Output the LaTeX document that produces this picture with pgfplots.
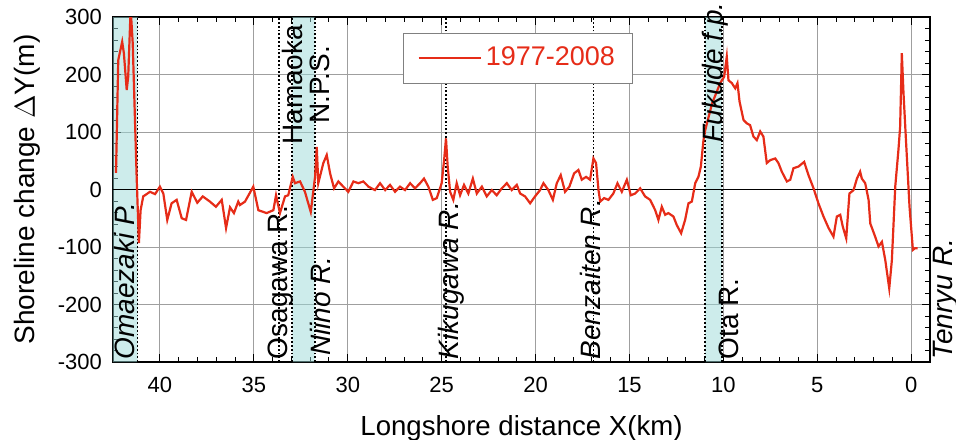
\documentclass[border=0pt]{standalone}
\usepackage{pgfplots}
\pgfplotsset{compat=1.18}
\usepackage{fontspec}
\setmainfont{Liberation Sans}
\definecolor{curve}{RGB}{230,44,24}
\definecolor{shade}{RGB}{155,217,215}
\begin{document}
\begin{tikzpicture}
\path[use as bounding box] (-56.5pt,-38.5pt) rectangle (421.5pt,181pt);
\begin{axis}[
    at={(0,0)}, anchor=south west,
    scale only axis, width=408.5pt, height=172.5pt,
    x dir=reverse,
    xmin=-1, xmax=42.5, ymin=-300, ymax=300,
    xtick={0,5,...,40},
    ytick={-300,-200,...,300},
    yticklabels={-300,-200,-100,0,100,200,300},
    minor x tick num=4, minor y tick num=4,
    tick align=inside,
    major tick length=4pt, minor tick length=2.5pt,
    tick style={black, line width=0.5pt},
    grid=major,
    major grid style={gray!75, line width=0.45pt},
    axis line style={black, line width=0.6pt},
    clip mode=individual,
    /pgf/number format/assume math mode=true,
    tick label style={font=\fontsize{11}{13}\selectfont},
    yticklabel style={xshift=-2pt},
    xticklabel style={yshift=-4pt},
    xlabel={Longshore distance X(km)},
    ylabel={Shoreline change $\Delta$Y(m)},
    xlabel style={font=\fontsize{13.8}{16}\selectfont, at={(axis description cs:0.5,-0.2116)}, anchor=base},
    ylabel style={font=\fontsize{14}{16}\selectfont, at={(axis description cs:-0.0955,0.5)}, anchor=base},
    legend style={at={(0.496,0.881)}, anchor=center, draw=gray, fill=white,
        font=\fontsize{13.5}{15}\selectfont, text=curve, inner xsep=7pt, inner ysep=5pt},
    legend image code/.code={\draw[#1] (0pt,0pt) -- (31pt,0pt);},
]
% shaded zones (half transparent so the grid shows through)
\addplot[forget plot, draw=none, fill=shade, fill opacity=0.5]
    coordinates {(42.5,-300) (41.19,-300) (41.19,300) (42.5,300) (42.5,-300)};
\addplot[forget plot, draw=none, fill=shade, fill opacity=0.5]
    coordinates {(32.95,-300) (31.76,-300) (31.76,300) (32.95,300) (32.95,-300)};
\addplot[forget plot, draw=none, fill=shade, fill opacity=0.5]
    coordinates {(10.97,-300) (10.08,-300) (10.08,300) (10.97,300) (10.97,-300)};
% zero line
\addplot[forget plot, black, line width=0.8pt] coordinates {(42.5,0) (-1,0)};
% dotted markers
\addplot[forget plot, black, densely dotted, line width=0.9pt] coordinates {(41.19,-300) (41.19,300)};
\addplot[forget plot, black, densely dotted, line width=0.9pt] coordinates {(33.64,-300) (33.64,300)};
\addplot[forget plot, black, densely dotted, line width=0.9pt] coordinates {(32.95,-300) (32.95,300)};
\addplot[forget plot, black, densely dotted, line width=0.9pt] coordinates {(31.76,-300) (31.76,300)};
\addplot[forget plot, black, densely dotted, line width=0.9pt] coordinates {(24.77,-300) (24.77,300)};
\addplot[forget plot, black, densely dotted, line width=0.9pt] coordinates {(16.92,-300) (16.92,300)};
\addplot[forget plot, black, densely dotted, line width=0.9pt] coordinates {(10.97,-300) (10.97,300)};
\addplot[forget plot, black, densely dotted, line width=0.9pt] coordinates {(10.08,-300) (10.08,300)};
% shoreline change 1977-2008
\addplot[curve, line width=1.1pt] coordinates {
(42.34,29) (42.22,225) (42.01,257) (41.92,237) (41.77,173) (41.69,196) (41.56,315) (41.45,255)
(41.24,22) (41.12,-93) (41.03,-36) (40.89,-12) (40.53,-4) (40.26,-8) (40.00,5) (39.82,-7)
(39.61,-53) (39.38,-24) (39.11,-18) (38.84,-50) (38.61,-53) (38.31,-4) (38.01,-23) (37.72,-12)
(37.34,-21) (37.02,-30) (36.71,-18) (36.48,-67) (36.27,-31) (36.06,-41) (35.83,-21) (35.74,-27)
(35.47,-21) (35.03,5) (34.76,-36) (34.32,-41) (33.96,-36) (33.82,-10) (33.61,-41) (33.34,-12)
(33.17,-10) (32.93,22) (32.81,11) (32.54,14) (32.28,-4) (31.97,-39) (31.74,22) (31.65,74)
(31.57,11) (31.30,46) (31.12,60) (30.94,28) (30.73,2) (30.50,14) (30.24,5) (29.97,-4)
(29.70,14) (29.44,11) (29.17,14) (28.90,5) (28.55,-1) (28.28,11) (28.01,-1) (27.75,8)
(27.48,-4) (27.22,5) (26.95,-1) (26.68,11) (26.42,2) (26.15,11) (25.94,19) (25.71,5)
(25.47,-18) (25.26,-15) (25.00,11) (24.87,51) (24.77,89) (24.68,40) (24.55,-4) (24.38,-18)
(24.20,11) (24.02,-10) (23.81,8) (23.58,-7) (23.34,19) (23.13,-7) (22.86,5) (22.60,-12)
(22.33,-1) (22.07,-10) (21.80,2) (21.53,11) (21.27,-1) (21.00,8) (20.82,-7) (20.56,-12)
(20.29,-24) (20.03,-12) (19.76,-1) (19.58,11) (19.32,-1) (19.08,-18) (18.87,11) (18.66,25)
(18.43,-4) (18.20,5) (17.95,28) (17.72,34) (17.54,17) (17.31,22) (17.10,17) (16.92,54)
(16.78,46) (16.65,-1) (16.56,-21) (16.35,-15) (16.12,-18) (15.86,-7) (15.64,11) (15.41,-4)
(15.14,17) (14.93,-10) (14.70,-7) (14.43,2) (14.17,-12) (13.90,-18) (13.63,-36) (13.46,-53)
(13.28,-30) (13.10,-44) (12.93,-41) (12.66,-47) (12.48,-62) (12.25,-76) (12.04,-53) (11.86,-24)
(11.68,-21) (11.50,11) (11.33,22) (11.20,40) (11.06,86) (10.97,103) (10.60,150) (10.17,185)
(9.96,196) (9.82,231) (9.73,190) (9.55,185) (9.37,176) (9.25,185) (9.14,153) (8.93,121)
(8.75,115) (8.58,112) (8.40,92) (8.22,86) (8.04,101) (7.87,92) (7.69,46) (7.51,51)
(7.24,54) (7.07,46) (6.89,31) (6.62,14) (6.44,17) (6.27,37) (6.00,40) (5.70,48)
(5.47,25) (5.20,2) (4.94,-24) (4.67,-47) (4.40,-67) (4.14,-82) (3.96,-47) (3.78,-44)
(3.64,-65) (3.46,-85) (3.29,-7) (3.07,-1) (2.89,19) (2.72,31) (2.63,19) (2.45,11)
(2.27,-18) (2.18,-59) (1.92,-82) (1.74,-99) (1.56,-91) (1.38,-123) (1.17,-172) (1.03,-123)
(0.85,5) (0.68,69) (0.59,109) (0.50,237) (0.41,167) (0.27,80) (0.09,-30) (-0.09,-105)
(-0.21,-102) (-0.34,-102)
};
\legend{1977-2008}
% place names
\node[rotate=90, inner sep=0pt, anchor=base west, font=\fontsize{14}{14}\selectfont\itshape] at (axis cs:41.36,-296) {Omaezaki P.};
\node[rotate=90, inner sep=0pt, anchor=base west, font=\fontsize{14}{14}\selectfont] at (axis cs:33.22,-296) {Osagawa R.};
\node[rotate=90, inner sep=0pt, anchor=center, align=center, font=\fontsize{14}{13.5}\selectfont] at (axis cs:32.22,182) {Hamaoka\\N.P.S.};
\node[rotate=90, inner sep=0pt, anchor=base west, font=\fontsize{14}{14}\selectfont\itshape] at (axis cs:30.94,-290) {Niino R.};
\node[rotate=90, inner sep=0pt, anchor=base west, font=\fontsize{14}{14}\selectfont\itshape] at (axis cs:24.08,-296) {Kikugawa R.};
\node[rotate=90, inner sep=0pt, anchor=base west, font=\fontsize{14}{14}\selectfont\itshape] at (axis cs:16.56,-296) {Benzaiten R.};
\node[rotate=90, inner sep=0pt, anchor=base west, font=\fontsize{14}{14}\selectfont\itshape] at (axis cs:10.07,81) {Fukude f.p.};
\node[rotate=90, inner sep=0pt, anchor=base west, font=\fontsize{14}{14}\selectfont] at (axis cs:9.17,-296) {Ota R.};
\node[rotate=90, inner sep=0pt, anchor=base west, font=\fontsize{14}{14}\selectfont\itshape] at (axis cs:-2.18,-296) {Tenryu R.};
\end{axis}
\end{tikzpicture}
\end{document}
